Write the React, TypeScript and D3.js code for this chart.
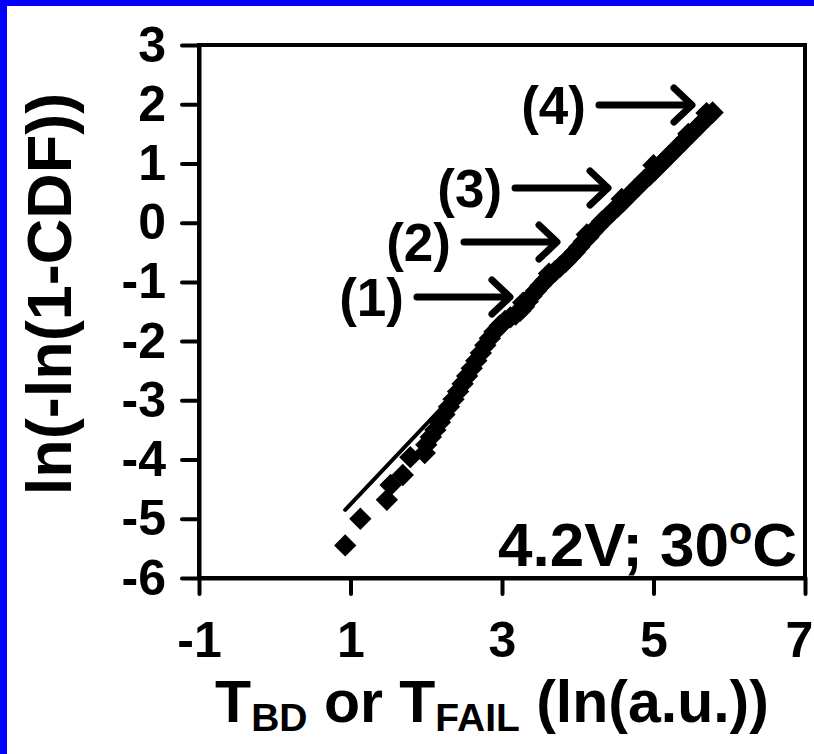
import React, { useRef, useEffect } from "react";
import * as d3 from "d3";

// tick values
const xTicks = [-1, 1, 3, 5, 7];
const yTicks = [3, 2, 1, 0, -1, -2, -3, -4, -5, -6];

// measured failure times (ln) and their Weibull ordinate
const tbdX = [
  0.93, 1.13, 1.48, 1.53, 1.69, 1.79, 1.98, 2.0, 2.06, 2.12, 2.18, 2.24, 2.3, 2.36,
  2.42, 2.48, 2.54, 2.6, 2.66, 2.72, 2.78, 2.84, 2.9, 2.97, 3.04, 3.11, 3.18, 3.24,
  3.29, 3.34, 3.39, 3.45, 3.51, 3.57, 3.63, 3.7, 3.77, 3.84, 3.9, 3.96, 4.02,
  4.08, 4.14, 4.2, 4.26, 4.32, 4.39, 4.46, 4.53, 4.6, 4.67, 4.74, 4.81, 4.88, 4.95,
  5.02, 5.09, 5.16, 5.23, 5.3, 5.37, 5.44, 5.51, 5.58, 5.65, 5.72, 5.78,
  3.28, 3.62, 4.12, 4.58, 5.0, 5.46, 5.7,
];
const tbdY = [
  -5.45, -5.0, -4.68, -4.43, -4.26, -3.96, -3.89, -3.75, -3.62, -3.5, -3.37, -3.24, -3.11, -2.98,
  -2.85, -2.72, -2.59, -2.46, -2.33, -2.2, -2.07, -1.95, -1.84, -1.74, -1.66, -1.6, -1.55, -1.49,
  -1.42, -1.33, -1.24, -1.15, -1.06, -0.98, -0.9, -0.82, -0.74, -0.66, -0.58, -0.5, -0.41,
  -0.32, -0.24, -0.15, -0.07, 0.02, 0.1, 0.19, 0.27, 0.36, 0.45, 0.54, 0.63, 0.72, 0.8,
  0.89, 0.98, 1.07, 1.16, 1.25, 1.34, 1.43, 1.52, 1.61, 1.7, 1.79, 1.86,
  -1.35, -0.86, -0.2, 0.4, 0.97, 1.5, 1.85,
];

// fitted line
const fitX = [0.93, 2.18, 3.2, 4.3, 5.75];
const fitY = [-4.85, -3.16, -1.5, 0.0, 1.85];

// numbered arrows, tip position in data units
const noteLabels = ["(1)", "(2)", "(3)", "(4)"];
const noteX = [3.105, 3.726, 4.4, 5.508];
const noteY = [-1.255, -0.327, 0.585, 1.987];

const condition = "4.2V; 30";

const W = 814;
const H = 754;
const FONT = "'Liberation Sans', Arial, sans-serif";

export default function App() {
  const svgRef = useRef<SVGSVGElement>(null);

  useEffect(() => {
    document.body.style.margin = "0";
    const svg = d3.select(svgRef.current);
    svg.selectAll("*").remove();

    const left = 199, right = 805, top = 45, bottom = 578;

    const x = d3.scaleLinear().domain([-1, 7]).range([left, right]);
    const y = d3.scaleLinear().domain([-6, 3]).range([bottom, top]);

    // blue frame of the slide
    svg.append("rect").attr("x", 0).attr("y", 0).attr("width", W).attr("height", 6).attr("fill", "#0000ff");
    svg.append("rect").attr("x", 0).attr("y", 0).attr("width", 7).attr("height", H).attr("fill", "#0000ff");

    // plot box
    svg.append("rect")
      .attr("x", left).attr("y", top)
      .attr("width", right - left).attr("height", bottom - top)
      .attr("fill", "none").attr("stroke", "#000").attr("stroke-width", 4);

    const yAxis = d3.axisLeft(y).tickValues(yTicks).tickSize(17).tickSizeOuter(0).tickPadding(16)
      .tickFormat((d) => String(d));
    const gy = svg.append("g").attr("transform", `translate(${left},0)`).call(yAxis);

    const xAxis = d3.axisBottom(x).tickValues(xTicks).tickSize(16).tickSizeOuter(0).tickPadding(27)
      .tickFormat((d) => String(d));
    const gx = svg.append("g").attr("transform", `translate(0,${bottom})`).call(xAxis);

    [gx, gy].forEach((g) => {
      g.select(".domain").attr("stroke-width", 4);
      g.selectAll(".tick line").attr("stroke-width", 4).attr("stroke-linecap", "round");
      g.selectAll(".tick text")
        .attr("font-family", FONT).attr("font-weight", "bold").attr("font-size", 50).attr("fill", "#000");
    });
    // keep the last label inside the page
    gx.selectAll(".tick text").filter((d) => d === 7).attr("dx", -6);

    // fit line
    const fitLine = d3.line<number>()
      .x((d, i) => x(fitX[i]))
      .y((d, i) => y(fitY[i]));
    svg.append("path")
      .datum(fitX)
      .attr("d", fitLine)
      .attr("fill", "none").attr("stroke", "#000").attr("stroke-width", 4).attr("stroke-linecap", "round");

    // diamonds
    const diamond = d3.symbol().type(d3.symbolSquare).size(250);
    svg.append("g").selectAll("path")
      .data(tbdX)
      .join("path")
      .attr("d", diamond)
      .attr("transform", (d, i) => `translate(${x(d)},${y(tbdY[i])}) rotate(45)`)
      .attr("fill", "#000");

    // numbered arrows
    noteLabels.forEach((lab, i) => {
      const tx = x(noteX[i]);
      const ty = y(noteY[i]);
      const g = svg.append("g").attr("stroke", "#000").attr("stroke-width", 7)
        .attr("stroke-linecap", "round").attr("stroke-linejoin", "round").attr("fill", "none");
      g.append("line").attr("x1", tx - 93).attr("y1", ty).attr("x2", tx - 2).attr("y2", ty);
      g.append("polyline").attr("points", `${tx - 18},${ty - 17} ${tx},${ty} ${tx - 18},${ty + 17}`);
      svg.append("text")
        .attr("x", tx - 106).attr("y", ty)
        .attr("dy", "0.35em")
        .attr("text-anchor", "end")
        .attr("font-family", FONT).attr("font-weight", "bold").attr("font-size", 53)
        .text(lab);
    });

    // condition label
    const cond = svg.append("text")
      .attr("x", 797).attr("y", 566)
      .attr("text-anchor", "end")
      .attr("font-family", FONT).attr("font-weight", "bold").attr("font-size", 62);
    cond.append("tspan").text(condition);
    cond.append("tspan").attr("font-size", 38).attr("dy", -22).text("o");
    cond.append("tspan").attr("dy", 22).text("C");

    // x title
    const xt = svg.append("text")
      .attr("x", 492).attr("y", 722)
      .attr("text-anchor", "middle")
      .attr("font-family", FONT).attr("font-weight", "bold").attr("font-size", 59);
    xt.append("tspan").text("T");
    xt.append("tspan").attr("font-size", 39).attr("dy", 9).text("BD");
    xt.append("tspan").attr("dy", -9).text(" or T");
    xt.append("tspan").attr("font-size", 39).attr("dy", 9).text("FAIL");
    xt.append("tspan").attr("dy", -9).text(" (ln(a.u.))");

    // y title
    svg.append("text")
      .attr("transform", `translate(71,294) rotate(-90)`)
      .attr("text-anchor", "middle")
      .attr("font-family", FONT).attr("font-weight", "bold").attr("font-size", 63)
      .text("ln(-ln(1-CDF))");
  }, []);

  return <svg ref={svgRef} width={W} height={H} style={{ display: "block", background: "#fff" }} />;
}
